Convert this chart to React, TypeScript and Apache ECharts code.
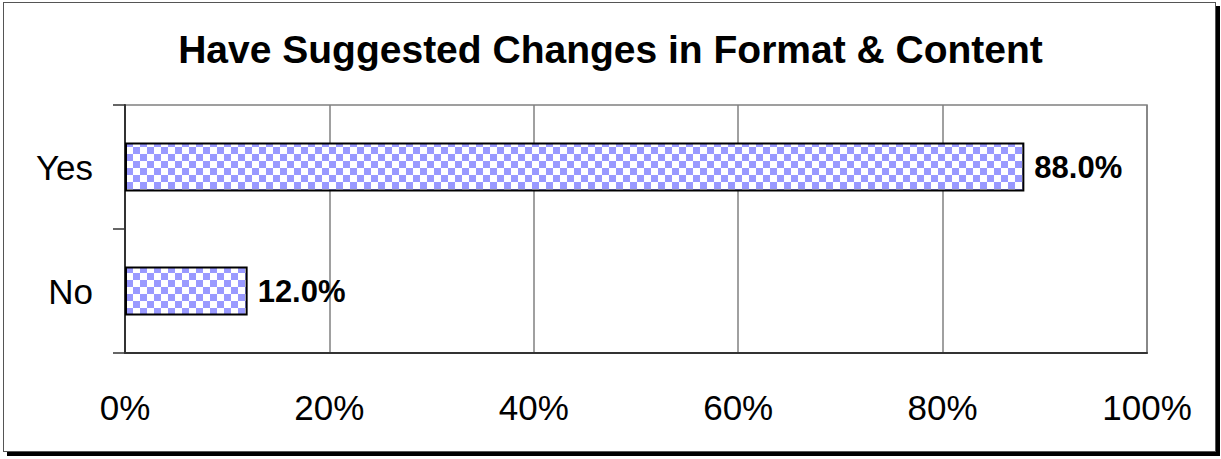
import React, { useEffect, useRef } from "react";
import * as echarts from "echarts";

const title = "Have Suggested Changes in Format & Content";
const categories = ["Yes", "No"];
const values = [88.0, 12.0];
const xTicks = [0, 20, 40, 60, 80, 100];

function makePattern(): HTMLCanvasElement {
  const c = document.createElement("canvas");
  const s = 7;
  c.width = s * 2;
  c.height = s * 2;
  const ctx = c.getContext("2d")!;
  ctx.fillStyle = "#ffffff";
  ctx.fillRect(0, 0, s * 2, s * 2);
  ctx.fillStyle = "#9999ff";
  ctx.fillRect(0, 0, s, s);
  ctx.fillRect(s, s, s, s);
  return c;
}

export default function App() {
  const ref = useRef<HTMLDivElement>(null);
  useEffect(() => {
    if (!ref.current) return;
    const chart = echarts.init(ref.current, undefined, { renderer: "svg" });
    const pattern = makePattern();
    const font = "'Liberation Sans', Arial, sans-serif";
    chart.setOption({
      animation: false,
      title: {
        text: title,
        left: "center",
        top: 25,
        textStyle: { fontFamily: font, fontSize: 39, fontWeight: "bold", color: "#000" },
      },
      grid: {
        left: 125,
        right: 74,
        top: 105,
        bottom: 106,
        show: true,
        borderColor: "#808080",
        borderWidth: 1.5,
        backgroundColor: "transparent",
      },
      xAxis: {
        type: "value",
        min: xTicks[0],
        max: xTicks[xTicks.length - 1],
        interval: 20,
        axisLine: { show: true, lineStyle: { color: "#333", width: 2 } },
        axisTick: { show: false },
        splitLine: { show: true, lineStyle: { color: "#808080", width: 1.5 } },
        axisLabel: {
          formatter: "{value}%",
          margin: 37,
          fontFamily: font,
          fontSize: 35,
          color: "#000",
        },
      },
      yAxis: {
        type: "category",
        data: categories,
        inverse: true,
        axisLine: { show: true, lineStyle: { color: "#333", width: 2 } },
        axisTick: { show: true, length: 12, lineStyle: { color: "#333", width: 1.5 } },
        axisLabel: { margin: 32, fontFamily: font, fontSize: 35, color: "#000" },
      },
      series: [
        {
          type: "bar",
          data: values,
          barWidth: 49,
          itemStyle: {
            color: { image: pattern, repeat: "repeat", imageWidth: 14, imageHeight: 14 } as any,
            borderColor: "#000",
            borderWidth: 2,
          },
          label: {
            show: true,
            position: "right",
            distance: 10,
            formatter: (p: any) => p.value.toFixed(1) + "%",
            fontFamily: font,
            fontSize: 31,
            fontWeight: "bold",
            color: "#000",
          },
        },
      ],
    });
    return () => chart.dispose();
  }, []);
  return (
    <div style={{ position: "absolute", left: 0, top: 0, width: 1221, height: 459, background: "#fff" }}>
      <div
        style={{
          position: "absolute",
          left: 3,
          top: 2,
          width: 1213,
          height: 450,
          border: "1.5px solid #555",
          boxShadow: "4px 4px 0 #000",
          background: "#fff",
          boxSizing: "border-box",
        }}
      />
      <div ref={ref} style={{ position: "absolute", left: 0, top: 0, width: 1221, height: 459 }} />
    </div>
  );
}
